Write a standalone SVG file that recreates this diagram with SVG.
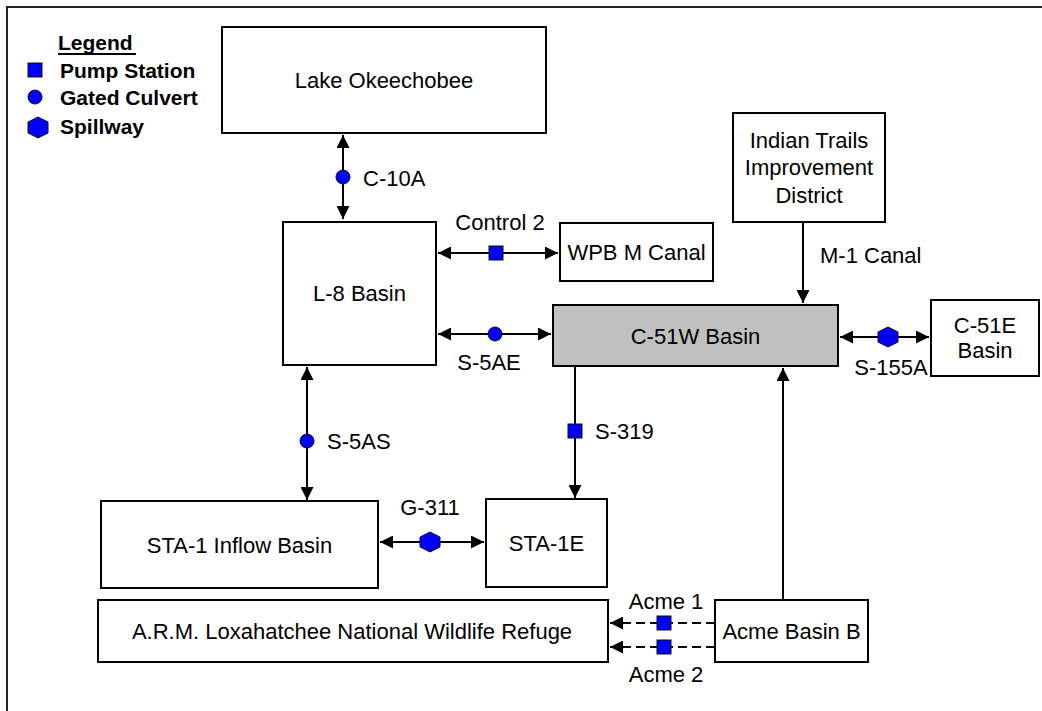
<svg xmlns="http://www.w3.org/2000/svg" width="1042" height="711" viewBox="0 0 1042 711">
<style>
.box{fill:#fff;stroke:#000;stroke-width:2}
.grey{fill:#c0c0c0;stroke:#000;stroke-width:2}
.t{font-family:"Liberation Sans",Arial,sans-serif;font-size:22px;fill:#000}
.c{text-anchor:middle}
.lg{font-family:"Liberation Sans",Arial,sans-serif;font-size:21px;font-weight:bold;fill:#000}
.ln{stroke:#000;stroke-width:2;fill:none}
.dash{stroke-dasharray:9,5}
.ic{fill:#0000ff;stroke:#111;stroke-width:1}
</style>
<defs>
<marker id="ah" markerUnits="userSpaceOnUse" markerWidth="13" markerHeight="13" refX="13" refY="6.5" orient="auto-start-reverse" viewBox="0 0 13 13">
<path d="M0,0 L13,6.5 L0,13 z" fill="#000"/>
</marker>
</defs>
<rect width="1042" height="711" fill="#fff"/>
<path d="M7,720 V7 H1050" fill="none" stroke="#222" stroke-width="2"/>

<g id="legend">
<text class="lg" x="58" y="50">Legend</text>
<line x1="58" y1="54" x2="136" y2="54" stroke="#000" stroke-width="2"/>
<rect class="ic" x="28" y="63" width="14" height="14"/>
<text class="lg" x="60" y="78">Pump Station</text>
<circle class="ic" cx="35" cy="97" r="7"/>
<text class="lg" x="60" y="105">Gated Culvert</text>
<polygon class="ic" points="28,122 38,117 48,122 48,133 38,138 28,133"/>
<text class="lg" x="60" y="134">Spillway</text>
</g>

<g id="lake">
<rect class="box" x="222" y="27" width="324" height="106"/>
<text class="t c" x="384" y="88">Lake Okeechobee</text>
</g>
<g id="l8">
<rect class="box" x="283" y="222" width="153" height="143"/>
<text class="t c" x="359.5" y="301">L-8 Basin</text>
</g>
<g id="wpb">
<rect class="box" x="560" y="223" width="153" height="58"/>
<text class="t c" x="636.5" y="260">WPB M Canal</text>
</g>
<g id="itid">
<rect class="box" x="733" y="113" width="152" height="109"/>
<text class="t c" x="809" y="148">Indian Trails</text>
<text class="t c" x="809" y="175">Improvement</text>
<text class="t c" x="809" y="203">District</text>
</g>
<g id="c51w">
<rect class="grey" x="553" y="305" width="285" height="61"/>
<text class="t c" x="695.5" y="344">C-51W Basin</text>
</g>
<g id="c51e">
<rect class="box" x="931" y="300" width="108" height="76"/>
<text class="t c" x="985" y="333">C-51E</text>
<text class="t c" x="985" y="358">Basin</text>
</g>
<g id="sta1inflow">
<rect class="box" x="101" y="501" width="277" height="87"/>
<text class="t c" x="239.5" y="553">STA-1 Inflow Basin</text>
</g>
<g id="sta1e">
<rect class="box" x="486" y="499" width="121" height="88"/>
<text class="t c" x="546.5" y="551">STA-1E</text>
</g>
<g id="arm">
<rect class="box" x="98" y="600" width="510" height="62"/>
<text class="t c" x="352" y="639">A.R.M. Loxahatchee National Wildlife Refuge</text>
</g>
<g id="acmeb">
<rect class="box" x="715" y="600" width="153" height="62"/>
<text class="t c" x="791.5" y="639">Acme Basin B</text>
</g>

<g id="connectors">
<line class="ln" x1="343" y1="135" x2="343" y2="219" marker-start="url(#ah)" marker-end="url(#ah)"/>
<line class="ln" x1="438" y1="253" x2="558" y2="253" marker-start="url(#ah)" marker-end="url(#ah)"/>
<line class="ln" x1="438" y1="334" x2="551" y2="334" marker-start="url(#ah)" marker-end="url(#ah)"/>
<line class="ln" x1="803" y1="222" x2="803" y2="303" marker-end="url(#ah)"/>
<line class="ln" x1="840" y1="337" x2="929" y2="337" marker-start="url(#ah)" marker-end="url(#ah)"/>
<line class="ln" x1="575" y1="366" x2="575" y2="498" marker-end="url(#ah)"/>
<line class="ln" x1="783" y1="600" x2="783" y2="368" marker-end="url(#ah)"/>
<line class="ln" x1="307" y1="367" x2="307" y2="500" marker-start="url(#ah)" marker-end="url(#ah)"/>
<line class="ln" x1="380" y1="542" x2="484" y2="542" marker-start="url(#ah)" marker-end="url(#ah)"/>
<line class="ln dash" x1="715" y1="623" x2="610" y2="623" marker-end="url(#ah)"/>
<line class="ln dash" x1="715" y1="647" x2="610" y2="647" marker-end="url(#ah)"/>

<circle class="ic" cx="343" cy="177" r="7"/>
<text class="t" x="363" y="186">C-10A</text>
<rect class="ic" x="489" y="246" width="14" height="14"/>
<text class="t c" x="500" y="230">Control 2</text>
<circle class="ic" cx="495" cy="334" r="7"/>
<text class="t c" x="489" y="370">S-5AE</text>
<text class="t" x="820" y="263">M-1 Canal</text>
<polygon class="ic" points="878,332 888,327 898,332 898,342 888,347 878,342"/>
<text class="t c" x="891" y="375">S-155A</text>
<rect class="ic" x="568" y="424" width="14" height="14"/>
<text class="t" x="595" y="439">S-319</text>
<circle class="ic" cx="307" cy="441" r="7"/>
<text class="t" x="327" y="449">S-5AS</text>
<polygon class="ic" points="420,537 430,532 440,537 440,547 430,552 420,547"/>
<text class="t c" x="430" y="515">G-311</text>
<rect class="ic" x="657" y="616" width="14" height="14"/>
<rect class="ic" x="657" y="640" width="14" height="14"/>
<text class="t c" x="666" y="609">Acme 1</text>
<text class="t c" x="666" y="682">Acme 2</text>
</g>
</svg>
